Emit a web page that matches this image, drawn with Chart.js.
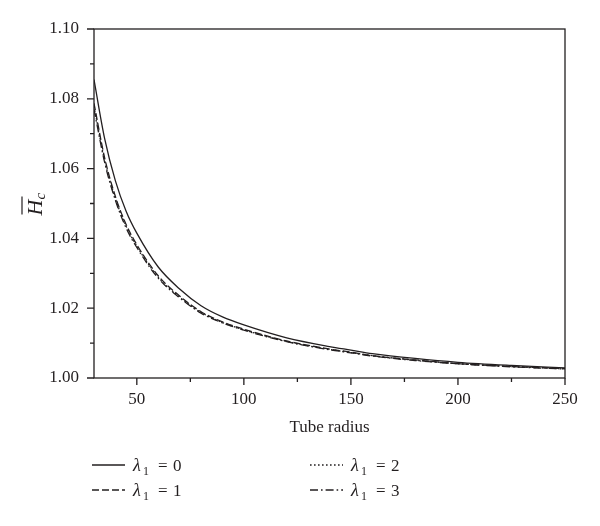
<!DOCTYPE html>
<html>
<head>
<meta charset="utf-8">
<script src="https://cdn.jsdelivr.net/npm/chart.js@4/dist/chart.umd.min.js"></script>
<style>
  html, body { margin: 0; padding: 0; background: #fff; }
  #wrap { width: 600px; height: 526px; position: relative; }
</style>
</head>
<body>
<div id="wrap"><canvas id="c" width="600" height="526"></canvas></div>
<script>
// ---- data ----
const radius = [30, 35, 40, 45, 50, 60, 70, 80, 90, 100, 120, 140, 150, 160, 180, 200, 225, 250];
const hcLambda0 = [1.0855, 1.0685, 1.0565, 1.0478, 1.0415, 1.0318, 1.0255, 1.0207, 1.0175, 1.0152, 1.0115, 1.0090, 1.0080, 1.0070, 1.0056, 1.0045, 1.0036, 1.0029];
const hcLambda1 = [1.0787, 1.0630, 1.0520, 1.0440, 1.0382, 1.0293, 1.0235, 1.0190, 1.0161, 1.0140, 1.0106, 1.0083, 1.0074, 1.0064, 1.0052, 1.0041, 1.0033, 1.0027];
const hcLambda2 = [1.0778, 1.0623, 1.0514, 1.0435, 1.0378, 1.0289, 1.0232, 1.0188, 1.0159, 1.0138, 1.0105, 1.0082, 1.0073, 1.0064, 1.0051, 1.0041, 1.0033, 1.0026];
const hcLambda3 = [1.0770, 1.0617, 1.0509, 1.0430, 1.0374, 1.0286, 1.0230, 1.0186, 1.0158, 1.0137, 1.0104, 1.0081, 1.0072, 1.0063, 1.0050, 1.0041, 1.0032, 1.0026];
const lambdaValues = ['0', '1', '2', '3'];
const xMajorTicks = [50, 100, 150, 200, 250];
const xMinorTicks = [75, 125, 175, 225];
const yMajorTicks = [1.00, 1.02, 1.04, 1.06, 1.08, 1.10];
const yMinorTicks = [1.01, 1.03, 1.05, 1.07, 1.09];
const xTitle = 'Tube radius';

const INK = '#231f20';
const SERIF = '"Liberation Serif", "DejaVu Serif", serif';

const series = [hcLambda0, hcLambda1, hcLambda2, hcLambda3];
const dashes = [[], [7, 3], [1.6, 2.4], [8, 3, 1.6, 3]];

const datasets = series.map((vals, i) => ({
  label: 'λ1 = ' + lambdaValues[i],
  data: radius.map((r, j) => ({ x: r, y: vals[j] })),
  borderColor: INK,
  borderWidth: 1.3,
  borderDash: dashes[i],
  pointRadius: 0,
  fill: false,
  cubicInterpolationMode: 'monotone'
}));

const decorPlugin = {
  id: 'decor',
  afterDraw(chart) {
    const ctx = chart.ctx;
    const ca = chart.chartArea;
    const xs = chart.scales.x, ys = chart.scales.y;
    ctx.save();
    ctx.strokeStyle = INK;
    ctx.lineWidth = 1.3;
    ctx.setLineDash([]);
    // frame
    ctx.strokeRect(ca.left, ca.top, ca.right - ca.left, ca.bottom - ca.top);
    // y ticks
    ctx.beginPath();
    yMajorTicks.forEach(v => { const p = ys.getPixelForValue(v); ctx.moveTo(ca.left, p); ctx.lineTo(ca.left - 7, p); });
    yMinorTicks.forEach(v => { const p = ys.getPixelForValue(v); ctx.moveTo(ca.left, p); ctx.lineTo(ca.left - 4, p); });
    xMajorTicks.forEach(v => { const p = xs.getPixelForValue(v); ctx.moveTo(p, ca.bottom); ctx.lineTo(p, ca.bottom + 7); });
    xMinorTicks.forEach(v => { const p = xs.getPixelForValue(v); ctx.moveTo(p, ca.bottom); ctx.lineTo(p, ca.bottom + 4); });
    ctx.stroke();

    // y-axis title: H-bar with subscript c, rotated
    ctx.fillStyle = INK;
    ctx.save();
    ctx.translate(42, (ca.top + ca.bottom) / 2 + 4);
    ctx.rotate(-Math.PI / 2);
    ctx.font = 'italic 22px ' + SERIF;
    ctx.textBaseline = 'alphabetic';
    ctx.textAlign = 'left';
    const hw = ctx.measureText('H').width;
    ctx.fillText('H', -hw / 2, 0);
    ctx.font = 'italic 15px ' + SERIF;
    ctx.fillText('c', hw / 2 + 0, 3);
    ctx.lineWidth = 1.2;
    ctx.beginPath();
    ctx.moveTo(-hw / 2 + 1, -20);
    ctx.lineTo(hw / 2 + 3, -20);
    ctx.stroke();
    ctx.restore();

    // legend (two columns)
    const cols = [92, 310];
    const rows = [465, 490];
    const order = [[0, 0], [0, 1], [1, 0], [1, 1]]; // [col,row] for each dataset
    chart.data.datasets.forEach((ds, i) => {
      const x0 = cols[order[i][0]], y0 = rows[order[i][1]];
      ctx.save();
      ctx.strokeStyle = INK;
      ctx.lineWidth = 1.3;
      ctx.setLineDash(ds.borderDash || []);
      ctx.beginPath();
      ctx.moveTo(x0, y0);
      ctx.lineTo(x0 + 33, y0);
      ctx.stroke();
      ctx.restore();
      const tx = x0 + 41;
      const base = y0 + 6;
      ctx.textAlign = 'left';
      ctx.textBaseline = 'alphabetic';
      ctx.font = 'italic 18px ' + SERIF;
      ctx.fillText('λ', tx, base);
      ctx.font = '12px ' + SERIF;
      ctx.fillText('1', tx + 10, base + 4);
      ctx.font = '17px ' + SERIF;
      ctx.fillText('=', tx + 25, base);
      ctx.fillText(lambdaValues[i], tx + 40, base);
    });
    ctx.restore();
  }
};

new Chart(document.getElementById('c'), {
  type: 'line',
  data: { datasets },
  options: {
    responsive: false,
    animation: false,
    layout: { padding: { left: 0, top: 29, right: 35, bottom: 88 } },
    plugins: { legend: { display: false }, tooltip: { enabled: false } },
    scales: {
      x: {
        type: 'linear',
        min: 30, max: 250,
        grid: { display: false, drawTicks: false },
        border: { display: false },
        afterBuildTicks: s => { s.ticks = xMajorTicks.map(v => ({ value: v })); },
        afterFit: s => { s.height = 60; },
        ticks: {
          padding: 11, color: INK, autoSkip: false, maxRotation: 0,
          font: { family: SERIF, size: 17 },
          callback: v => String(v)
        },
        title: {
          display: true, text: xTitle, color: INK,
          font: { family: SERIF, size: 17 },
          padding: { top: 0, bottom: 0 }
        }
      },
      y: {
        type: 'linear',
        min: 1.00, max: 1.10,
        grid: { display: false, drawTicks: false },
        border: { display: false },
        afterBuildTicks: s => { s.ticks = yMajorTicks.map(v => ({ value: v })); },
        afterFit: s => { s.width = 94; },
        ticks: {
          padding: 15, color: INK, autoSkip: false,
          font: { family: SERIF, size: 17 },
          callback: v => Number(v).toFixed(2)
        }
      }
    }
  },
  plugins: [decorPlugin]
});
</script>
</body>
</html>
